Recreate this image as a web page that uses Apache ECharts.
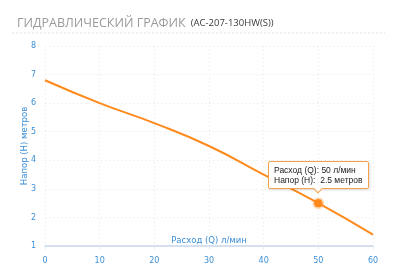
<!DOCTYPE html>
<html><head><meta charset="utf-8">
<script src="https://cdn.jsdelivr.net/npm/echarts@6/dist/echarts.min.js"></script>
<style>html,body{margin:0;padding:0;background:#fff}#c{width:400px;height:277px}</style>
</head><body><div id="c"></div>
<script>
var flowQ = [0, 10, 20, 30, 40, 50, 60];
var headH = [6.8, 6.0, 5.3, 4.5, 3.5, 2.5, 1.4];
var xTicks = [0, 10, 20, 30, 40, 50, 60];
var yTicks = [1, 2, 3, 4, 5, 6, 7, 8];
var highlightIndex = 5;

var chart = echarts.init(document.getElementById('c'));
var data = flowQ.map(function (q, i) { return [q, headH[i]]; });
var blue = '#3d8fd6';
var orange = '#ff8a1c';
chart.setOption({
  animation: false,
  title: {
    text: '{a|ГИДРАВЛИЧЕСКИЙ ГРАФИК} {b|(АС-207-130HW(S))}',
    left: 12, top: 9,
    textStyle: {
      fontWeight: 'normal',
      rich: {
        a: { fontFamily: 'Open Sans', fontSize: 12.5, color: '#9a9a9a', fontWeight: 'normal' },
        b: { fontFamily: 'Open Sans', fontSize: 9.5, color: '#3a3a3a', fontWeight: 'normal' }
      }
    }
  },
  graphic: [{
    type: 'line', shape: { x1: 12, y1: 33, x2: 385, y2: 33 },
    style: { stroke: '#e2e2e2', lineWidth: 1, lineDash: [2, 2] }
  }],
  grid: { left: 45, right: 27, top: 46, bottom: 31, containLabel: false, outerBoundsMode: 'none' },
  tooltip: {
    trigger: 'item',
    position: 'top',
    alwaysShowContent: true,
    backgroundColor: 'rgba(255,255,255,0.95)',
    borderColor: '#f5a04a',
    borderWidth: 1,
    padding: [3, 5],
    textStyle: { fontFamily: 'Liberation Sans', fontSize: 8.5, color: '#222' },
    extraCssText: 'box-shadow:1px 1px 3px rgba(0,0,0,0.15);border-radius:2px;line-height:10px;',
    formatter: function (p) {
      return 'Расход (Q): ' + p.value[0] + ' л/мин<br/>Напор (Н):&nbsp; ' + p.value[1] + ' метров';
    }
  },
  xAxis: {
    type: 'value', min: xTicks[0], max: xTicks[xTicks.length - 1], interval: 10,
    name: 'Расход (Q) л/мин', nameLocation: 'middle', nameGap: -10, nameMoveOverlap: false,
    nameTextStyle: { color: blue, fontSize: 8.5, fontFamily: 'DejaVu Sans' },
    axisLine: { lineStyle: { color: '#c9d6ea', width: 1.5 } },
    axisTick: { show: true, length: 3, lineStyle: { color: '#dde6f2' } },
    axisLabel: { color: blue, fontSize: 8, margin: 11, fontFamily: 'DejaVu Sans' },
    splitLine: { show: true, lineStyle: { color: '#e6e6e6', type: [1, 3] } }
  },
  yAxis: {
    type: 'value', min: yTicks[0], max: yTicks[yTicks.length - 1], interval: 1,
    name: 'Напор (Н) метров', nameLocation: 'middle', nameGap: 16, nameMoveOverlap: false,
    nameTextStyle: { color: blue, fontSize: 8.5, fontFamily: 'DejaVu Sans' },
    axisLine: { show: false }, axisTick: { show: false },
    axisLabel: { color: blue, fontSize: 8, margin: 9, fontFamily: 'DejaVu Sans' },
    splitLine: { show: true, lineStyle: { color: '#e6e6e6', type: [1, 3] } }
  },
  series: [{
    type: 'line', data: data, smooth: true, showSymbol: true, symbol: 'circle',
    symbolSize: function (v, p) { return p.dataIndex === highlightIndex ? 8 : 0; },
    lineStyle: { color: orange, width: 2 },
    itemStyle: { color: orange },
    emphasis: { disabled: true },
    markPoint: {
      silent: true,
      data: [{ coord: data[highlightIndex], symbol: 'circle', symbolSize: 8,
        itemStyle: { color: orange, borderColor: 'rgba(255,138,28,0.3)', borderWidth: 4 }, label: { show: false } }]
    }
  }]
});
chart.dispatchAction({ type: 'showTip', seriesIndex: 0, dataIndex: highlightIndex });
</script>
</body></html>
